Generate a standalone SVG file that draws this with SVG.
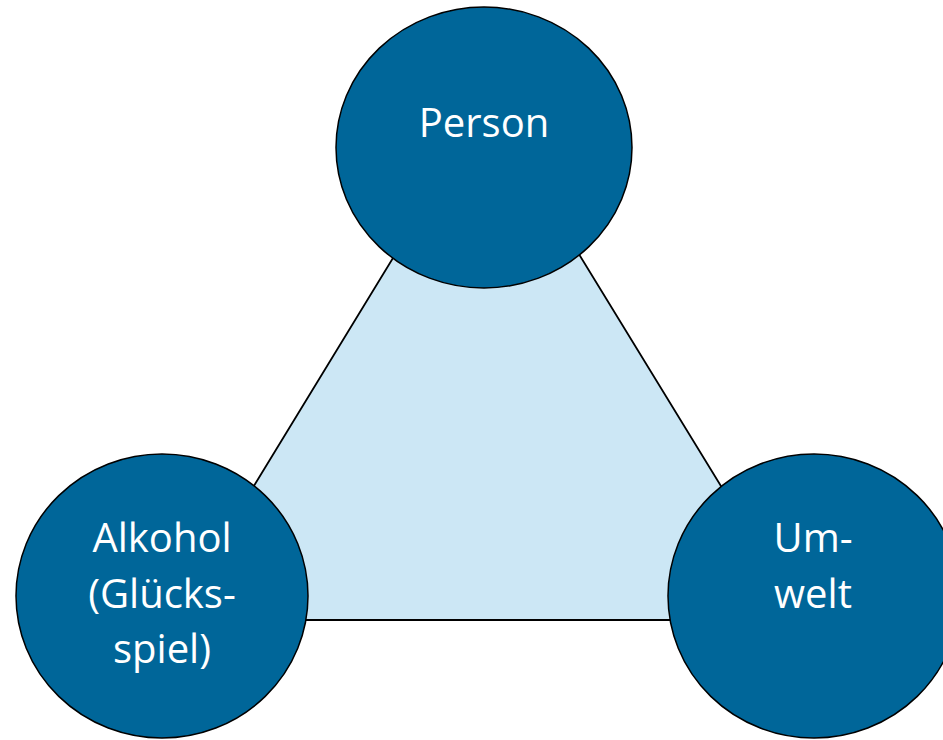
<svg xmlns="http://www.w3.org/2000/svg" width="943" height="740" viewBox="0 0 943 740">
<style>
.node{fill:#006699;stroke:#000;stroke-width:1.5}
.lbl{fill:#fff;font-family:"Open Sans","Noto Sans","Liberation Sans",sans-serif;font-size:40px;text-anchor:middle}
.tri{fill:#CCE7F5;stroke:#000;stroke-width:1.8}
</style>
<rect width="943" height="740" fill="#fff"/>
<g id="connectors">
<polygon class="tri" points="487,104 172,620 803,620"/>
</g>
<g id="person">
<ellipse class="node" cx="484" cy="147.5" rx="148" ry="140.5"/>
<text class="lbl" x="484" y="137">Person</text>
</g>
<g id="alkohol">
<ellipse class="node" cx="162" cy="596" rx="146" ry="142"/>
<text class="lbl" x="162" y="552">Alkohol</text>
<text class="lbl" x="162" y="608">(Glücks-</text>
<text class="lbl" x="162" y="663">spiel)</text>
</g>
<g id="umwelt">
<ellipse class="node" cx="814" cy="596" rx="146" ry="142"/>
<text class="lbl" x="813" y="552">Um-</text>
<text class="lbl" x="813" y="608">welt</text>
</g>
</svg>
